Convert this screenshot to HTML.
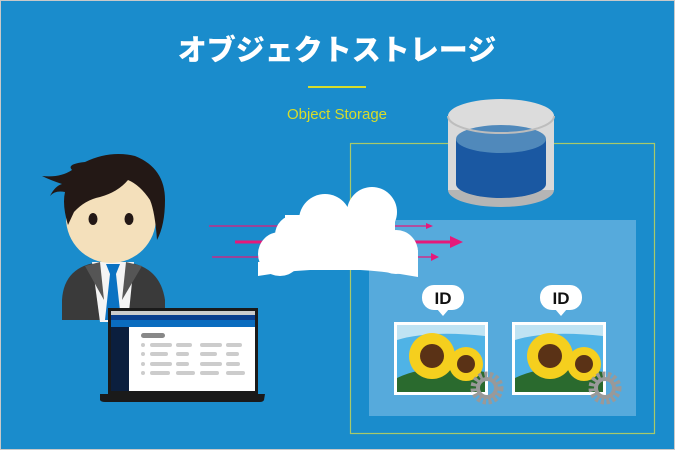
<!DOCTYPE html>
<html><head><meta charset="utf-8"><style>
html,body{margin:0;padding:0;width:675px;height:450px;overflow:hidden;background:#1a8ccc}
svg{display:block}
</style></head><body>
<svg width="675" height="450" viewBox="0 0 675 450" xmlns="http://www.w3.org/2000/svg">
<rect x="0.5" y="0.5" width="674" height="449" fill="#1a8ccc" stroke="#c9c9c9"/>
<text x="337" y="60" text-anchor="middle" font-family="'Noto Sans CJK JP',sans-serif" font-weight="900" font-size="29" fill="#fff">オブジェクトストレージ</text>
<rect x="308" y="86" width="58" height="2" fill="#d7dc2a"/>
<text x="337" y="119" text-anchor="middle" font-family="'Liberation Sans',sans-serif" font-size="15" fill="#d7dc2a">Object Storage</text>
<rect x="350.5" y="143.5" width="304" height="290" fill="none" stroke="#a8c96a" stroke-width="1.2"/>
<rect x="369" y="220" width="267" height="196" fill="#56aadc"/>
<!-- cylinder -->
<ellipse cx="501" cy="190" rx="53" ry="17" fill="#b5b5b5"/>
<rect x="448" y="116" width="106" height="74" fill="#d9d9d9"/>
<ellipse cx="501" cy="116" rx="53" ry="17" fill="#dcdcdc"/>
<ellipse cx="501" cy="184" rx="45" ry="14" fill="#1a58a2"/>
<rect x="456" y="139" width="90" height="45" fill="#1a58a2"/>
<ellipse cx="501" cy="139" rx="45" ry="14" fill="#5089bb"/>
<path d="M448 116 A53 17 0 0 0 554 116" fill="none" stroke="#bdbdbd" stroke-width="2"/>
<!-- arrows -->
<g stroke="#e5197a" fill="#e5197a">
<line x1="209" y1="226" x2="428" y2="226" stroke-width="1.2"/><polygon points="426,223 433,226 426,229" stroke="none"/>
<line x1="235" y1="242" x2="452" y2="242" stroke-width="3"/><polygon points="450,236 463,242 450,248" stroke="none"/>
<line x1="212" y1="257" x2="432" y2="257" stroke-width="1.2"/><polygon points="431,253 439,257 431,261" stroke="none"/>
</g>
<!-- cloud -->
<g fill="#fff">
<circle cx="372" cy="212" r="25"/>
<circle cx="325" cy="220" r="26"/>
<circle cx="295" cy="235" r="20"/>
<circle cx="280" cy="254" r="22"/>
<circle cx="396" cy="252" r="22"/>
<rect x="285" y="215" width="110" height="55"/>
<path d="M258 262 L258 276 Q337 262 418 277 L418 250 Z"/>
</g>
<!-- ID bubbles and images -->
<g font-family="'Liberation Sans',sans-serif" font-weight="bold" font-size="17" text-anchor="middle">
<g id="a">
<rect x="422" y="285" width="42" height="25" rx="12" fill="#fff"/>
<polygon points="437,309 449,309 443,316" fill="#fff"/>
<text x="443" y="304" fill="#111">ID</text>
<rect x="394" y="322" width="94" height="73" fill="#fff"/>
<rect x="397" y="325" width="88" height="67" fill="#4fb3e6"/>
<path d="M397 340 Q430 330 485 336 L485 325 L397 325Z" fill="#bfe3f3"/>
<path d="M397 378 Q430 362 485 372 L485 392 L397 392Z" fill="#2a6a2e"/>
<circle cx="432" cy="356" r="23" fill="#f5cf1e"/>
<circle cx="432" cy="356" r="12" fill="#5a3216"/>
<circle cx="466" cy="364" r="17" fill="#f5cf1e"/>
<circle cx="466" cy="364" r="9" fill="#5a3216"/>
<circle cx="487" cy="388" r="13" fill="none" stroke="#999" stroke-width="7" stroke-dasharray="3 2.3"/>
<circle cx="487" cy="388" r="9" fill="none" stroke="#999" stroke-width="4"/>
</g>
<use href="#a" x="118"/>
</g>
<!-- person -->
<path d="M62 300 Q64 266 100 262 L125 262 Q160 266 165 300 L165 320 L62 320Z" fill="#3a3a3a"/>
<polygon points="92,262 134,262 128,322 100,322" fill="#f4f4f4"/>
<polygon points="106,264 120,264 116,274 121,320 105,320 110,274" fill="#0a72c2"/>
<path d="M85 266 L100 262 L104 300 Z" fill="#555"/>
<path d="M142 266 L126 262 L122 300 Z" fill="#555"/>
<circle cx="111" cy="218" r="45" fill="#f4e0bb"/>
<path d="M42 176 Q60 178 72 170 Q66 164 85 162 Q110 150 135 156 Q165 168 165 200 Q165 225 157 240 Q155 212 150 200 Q140 185 128 180 Q118 192 100 197 Q85 200 74 212 L68 225 Q62 205 65 192 Q55 190 50 196 Q55 186 62 184 Q50 180 42 176 Z" fill="#231815"/>
<ellipse cx="93" cy="219" rx="4.5" ry="6" fill="#231815"/>
<ellipse cx="129" cy="219" rx="4.5" ry="6" fill="#231815"/>
<!-- laptop -->
<rect x="108" y="308" width="150" height="86" fill="#1a1a1a"/>
<rect x="111" y="311" width="144" height="80" fill="#fff"/>
<rect x="111" y="311" width="144" height="4" fill="#ccc"/>
<rect x="111" y="315" width="144" height="12" fill="#0a6cbf"/>
<rect x="111" y="315" width="144" height="5" fill="#0a3f8e"/>
<rect x="111" y="327" width="18" height="64" fill="#0b1f3e"/>
<rect x="141" y="333" width="24" height="5" rx="2.5" fill="#888"/>
<g fill="#ccc">
<rect x="141" y="343" width="4" height="4" rx="2"/><rect x="150" y="343" width="22" height="4" rx="2"/><rect x="176" y="343" width="16" height="4" rx="2"/><rect x="200" y="343" width="22" height="4" rx="2"/><rect x="226" y="343" width="16" height="4" rx="2"/>
<rect x="141" y="352" width="4" height="4" rx="2"/><rect x="150" y="352" width="18" height="4" rx="2"/><rect x="176" y="352" width="13" height="4" rx="2"/><rect x="200" y="352" width="17" height="4" rx="2"/><rect x="226" y="352" width="13" height="4" rx="2"/>
<rect x="141" y="362" width="4" height="4" rx="2"/><rect x="150" y="362" width="22" height="4" rx="2"/><rect x="176" y="362" width="13" height="4" rx="2"/><rect x="200" y="362" width="22" height="4" rx="2"/><rect x="226" y="362" width="14" height="4" rx="2"/>
<rect x="141" y="371" width="4" height="4" rx="2"/><rect x="150" y="371" width="20" height="4" rx="2"/><rect x="176" y="371" width="19" height="4" rx="2"/><rect x="200" y="371" width="19" height="4" rx="2"/><rect x="226" y="371" width="19" height="4" rx="2"/>
</g>
<path d="M100 394 L265 394 L264 400 Q263 402 260 402 L105 402 Q101 402 100 400Z" fill="#1a1a1a"/>
</svg>
</body></html>
